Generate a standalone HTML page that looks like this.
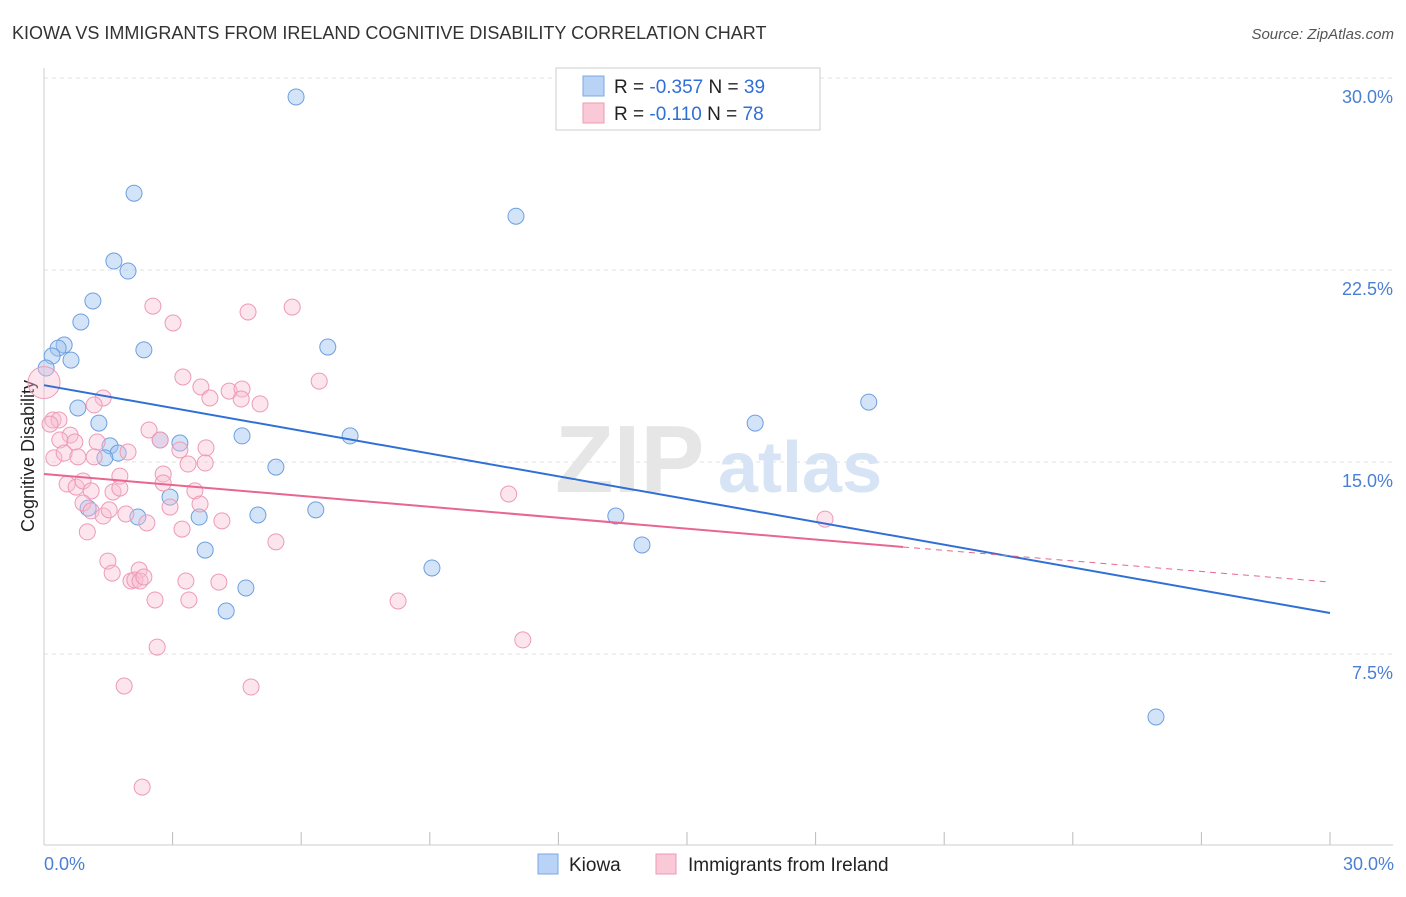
<!DOCTYPE html>
<html><head><meta charset="utf-8"><style>
body{margin:0;background:#fff;font-family:"Liberation Sans",sans-serif}
svg text{font-family:"Liberation Sans",sans-serif}
</style></head><body>
<svg width="1406" height="892" xmlns="http://www.w3.org/2000/svg">
<text x="12" y="39" font-size="18" fill="#333">KIOWA VS IMMIGRANTS FROM IRELAND COGNITIVE DISABILITY CORRELATION CHART</text>
<text x="1394" y="39" font-size="15" fill="#555" font-style="italic" text-anchor="end">Source: ZipAtlas.com</text>
<g id="grid"></g>
<g><text x="555" y="492" font-size="96" fill="#e6e6e6" font-family="Liberation Serif" font-weight="bold">ZIP</text><text x="718" y="492" font-size="72" fill="#d6e4f5" font-weight="bold">atlas</text></g>
<line x1="44" y1="68" x2="44" y2="845" stroke="#ccc"/>
<line x1="44" y1="845" x2="1393" y2="845" stroke="#ccc"/>
<text transform="translate(34,456) rotate(-90)" font-size="18" fill="#222" text-anchor="middle">Cognitive Disability</text>
<text x="44" y="870" font-size="18" fill="#4a7fd4">0.0%</text>
<text x="1394" y="870" font-size="18" fill="#4a7fd4" text-anchor="end">30.0%</text>
<g id="pts"></g>
<g id="lines"></g>
<g>
<rect x="556" y="68" width="264" height="62" fill="#fff" stroke="#ccc"/>
<rect x="583" y="76" width="21" height="20" fill="#b8d3f5" stroke="#7aaae6"/>
<rect x="583" y="103" width="21" height="20" fill="#f9c9d8" stroke="#ee9ab5"/>
<text x="614" y="93" font-size="19" fill="#222">R = <tspan fill="#2f6fd6">-0.357</tspan>   N = <tspan fill="#2f6fd6">39</tspan></text>
<text x="614" y="120" font-size="19" fill="#222">R =  <tspan fill="#2f6fd6">-0.110</tspan>   N = <tspan fill="#2f6fd6">78</tspan></text>
</g>
<g>
<rect x="538" y="854" width="20" height="20" fill="#b8d3f5" stroke="#7aaae6"/>
<text x="569" y="871" font-size="19" fill="#222">Kiowa</text>
<rect x="656" y="854" width="20" height="20" fill="#f9c9d8" stroke="#ee9ab5"/>
<text x="688" y="871" font-size="19" fill="#222">Immigrants from Ireland</text>
</g>
</svg>
<script>
const yTicks=[7.5,15,22.5,30];
const yTickLabels=["7.5%","15.0%","22.5%","30.0%"];
const xTicks=[0,3,6,9,12,15,18,21,24,27,30];
const kiowaX=[5.88,2.10,11.01,1.63,1.96,1.14,0.86,0.47,0.33,2.33,6.62,0.19,0.63,0.05,0.79,1.28,4.62,7.14,16.59,19.24,2.71,3.17,1.54,1.73,1.42,5.41,2.94,1.03,6.34,2.19,3.62,4.99,13.34,13.95,3.76,9.05,4.71,4.25,25.94];
const kiowaY=[29.26,25.5,24.6,22.85,22.46,21.29,20.47,19.57,19.45,19.38,19.49,19.14,18.98,18.67,17.11,16.52,16.02,16.02,16.52,17.34,15.86,15.74,15.63,15.35,15.16,14.8,13.63,13.2,13.13,12.85,12.85,12.93,12.89,11.76,11.56,10.86,10.08,9.18,5.04];
const irelandX=[0,2.54,3.01,4.76,5.79,3.24,3.66,3.87,4.32,4.62,4.6,5.04,6.42,1.38,1.17,0.21,0.35,0.14,0.61,0.37,0.72,1.24,1.96,2.45,2.71,3.17,3.78,3.76,3.36,0.23,0.47,0.79,1.17,1.77,2.78,2.78,0.54,0.75,0.91,1.1,1.61,1.77,3.52,3.64,2.94,0.91,1.1,1.38,1.52,1.91,2.4,3.22,4.15,1.01,5.41,10.84,18.22,1.49,1.59,2.22,2.03,2.12,2.24,2.33,3.31,4.08,2.59,3.38,8.26,2.64,11.17,1.87,4.83,2.29];
const irelandY=[18.1,21.09,20.43,20.86,21.05,18.32,17.93,17.5,17.77,17.85,17.46,17.27,18.16,17.5,17.23,16.64,16.64,16.48,16.05,15.86,15.78,15.78,15.39,16.25,15.86,15.47,15.55,14.96,14.92,15.16,15.35,15.2,15.2,14.45,14.53,14.18,14.14,14.02,14.26,13.87,13.83,13.98,13.87,13.36,13.24,13.4,13.09,12.89,13.13,12.97,12.62,12.38,12.7,12.27,11.88,13.75,12.77,11.13,10.66,10.78,10.35,10.39,10.35,10.51,10.35,10.31,9.61,9.61,9.57,7.77,8.05,6.25,6.21,2.30];
const kiowaTrend=[0,18.0,30,9.1];
const irelandTrend=[0,14.53,20.04,11.68,30,10.31];
const X=v=>44+v*(1286/30), Y=v=>846-v*25.6;
const NS="http://www.w3.org/2000/svg";
function mk(t,a,p){const e=document.createElementNS(NS,t);for(const k in a)e.setAttribute(k,a[k]);p.appendChild(e);return e;}
const grid=document.getElementById('grid');
yTicks.forEach((t,i)=>{
 const l=mk('line',{x1:44,x2:1393,y1:Y(t),y2:Y(t),stroke:'#e2e2e2','stroke-dasharray':'4,4'},grid);
 
 
 const tx=mk('text',{x:1393,y:Y(t)+25,'font-size':18,fill:'#4a7fd4','text-anchor':'end'},grid);
 tx.textContent=yTickLabels[i];
 
 
});
xTicks.forEach(t=>{
 const l=mk('line',{x1:X(t),x2:X(t),y1:832,y2:845,stroke:'#bbb'},grid);
 
 
});
const pts=document.getElementById('pts');
kiowaX.forEach((x,i)=>{
 const c=mk('circle',{cx:X(x),cy:Y(kiowaY[i]),r:8,fill:'rgba(160,195,240,0.45)',stroke:'#6d9fe0','stroke-width':1},pts);
 
 
});
irelandX.forEach((x,i)=>{
 const c=mk('circle',{cx:X(x),cy:Y(irelandY[i]),r:i==0?16:8,fill:'rgba(248,190,210,0.4)',stroke:'#ee9ab5','stroke-width':1},pts);
 
 
});
const lines=document.getElementById('lines');
let l=mk('line',{x1:X(kiowaTrend[0]),y1:Y(kiowaTrend[1]),x2:X(kiowaTrend[2]),y2:Y(kiowaTrend[3]),stroke:'#2f6fd6','stroke-width':2},lines);


l=mk('line',{x1:X(irelandTrend[0]),y1:Y(irelandTrend[1]),x2:X(irelandTrend[2]),y2:Y(irelandTrend[3]),stroke:'#e8668f','stroke-width':2},lines);


l=mk('line',{x1:X(irelandTrend[2]),y1:Y(irelandTrend[3]),x2:X(irelandTrend[4]),y2:Y(irelandTrend[5]),stroke:'#e8668f','stroke-width':1,'stroke-dasharray':'6,5'},lines);


</script>
</body></html>
